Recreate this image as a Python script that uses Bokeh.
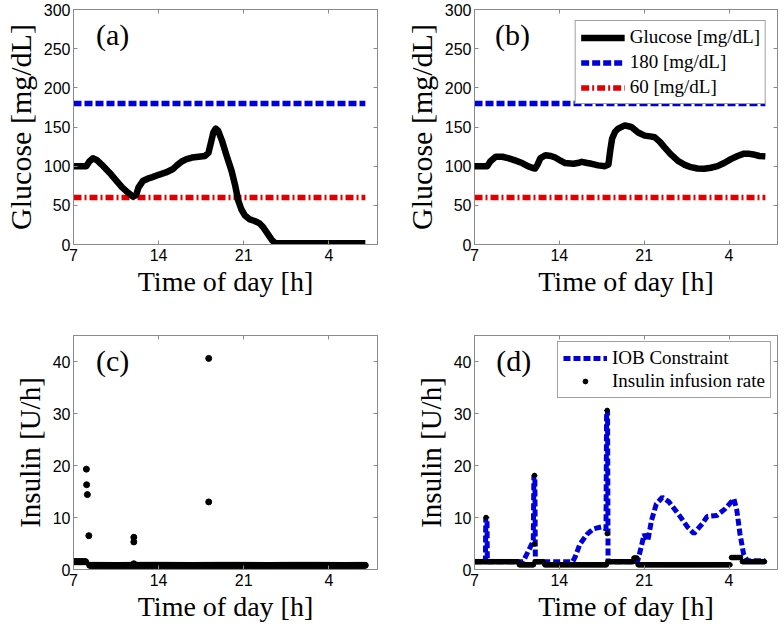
import numpy as np
from bokeh.plotting import figure
from bokeh.layouts import gridplot
from bokeh.models import (Range1d, LinearAxis, FixedTicker, CustomJSTickFormatter, Label)
from bokeh.embed import file_html
from bokeh.resources import INLINE

# ---------------- data ----------------
x_ticks = [7, 14, 21, 28]
x_tick_labels = {28: "4"}
glu_ticks = [0, 50, 100, 150, 200, 250, 300]
ins_ticks = [0, 10, 20, 30, 40]

upper_limit = 180
lower_limit = 60
limit_t = [7.0, 31.0]

# (a) glucose
ga_t = [7.0, 8.05, 8.3, 8.6, 8.9, 9.45, 10.0, 10.5, 11.0, 11.5, 11.9, 12.15, 12.35, 12.7,
        13.1, 13.5, 14.0, 14.6, 15.15, 15.5, 15.9, 16.3, 16.75, 17.3, 17.8, 18.1, 18.3,
        18.5, 18.7, 18.9, 19.2, 19.6, 20.0, 20.3, 20.55, 20.8, 21.1, 21.5, 21.9, 22.3,
        22.6, 23.0, 23.3, 23.6, 31.0]
ga_g = [100, 100, 106, 110, 108, 100, 91, 82, 73, 66, 61, 63, 73, 81,
        84, 86, 89, 92, 96, 101, 106, 109, 111, 112, 113, 117, 130,
        143, 148, 145, 133, 113, 94, 75, 56, 45, 37, 32, 30, 27,
        22, 13, 6, 1.5, 1.5]

# (b) glucose
gb_t = [7.0, 8.05, 8.3, 8.75, 9.3, 9.84, 10.4, 10.93, 11.4, 11.75, 12.0, 12.2, 12.43,
        12.85, 13.3, 13.66, 14.1, 14.48, 15.16, 15.5, 15.85, 16.3, 16.67, 17.2, 17.77,
        18.05, 18.2, 18.35, 18.6, 18.86, 19.4, 19.95, 20.5, 21.04, 21.5, 21.86, 22.3,
        22.68, 23.2, 23.77, 24.3, 24.86, 25.4, 25.96, 26.5, 27.05, 27.6, 28.15, 28.7,
        29.24, 29.6, 30.0, 30.5, 31.0]
gb_g = [100, 100, 106, 112, 112, 110, 107, 104, 100, 98, 97, 102, 110,
        114, 113, 111, 107, 104, 103, 104, 105.5, 104, 103, 101, 100,
        102, 120, 135, 144, 148, 152, 150, 143, 139, 138, 137, 131,
        124, 115, 107, 102, 98.7, 97, 96.7, 98, 100, 104, 109, 113,
        116, 116, 115, 113, 112.5]

# (c) insulin infusion: basal segments (start, end, rate) + bolus points
c_basal = [(7.0, 8.0, 1.5), (8.33, 31.0, 0.8)]
c_bolus_t = [8.06, 8.08, 8.14, 8.26, 11.96, 11.96, 11.96, 18.12, 18.12]
c_bolus_v = [19.3, 16.3, 14.4, 6.5, 6.2, 5.3, 1.1, 40.6, 13.0]

# (d) insulin infusion with IOB constraint
d_basal = [(7.0, 10.65, 1.5), (10.7, 11.9, 0.9), (12.0, 12.7, 1.5), (12.8, 17.9, 0.9),
           (18.0, 20.1, 1.5), (20.15, 20.45, 2.2), (20.5, 28.1, 0.9), (28.2, 29.0, 2.3),
           (29.1, 31.0, 1.5)]
d_bolus_t = [7.95, 11.95, 11.95, 17.95, 17.95]
d_bolus_v = [10.0, 18.1, 4.9, 30.6, 6.9]

iob_t = [7.0, 7.9, 7.93, 8.03, 8.06, 11.0, 11.2, 11.6, 11.85, 11.9, 11.98, 12.02, 15.1,
         15.3, 15.7, 16.3, 16.8, 17.5, 17.85, 17.9, 17.98, 18.02, 20.45, 20.75, 21.0,
         21.3, 21.6, 22.0, 22.5, 23.05, 23.9, 24.6, 25.1, 25.8, 26.2, 27.0, 27.7, 28.4,
         28.65, 28.9, 29.2, 29.5, 31.0]
iob_v = [1.5, 1.5, 10.0, 10.0, 1.5, 1.5, 2.4, 4.3, 5.5, 18.1, 18.1, 1.5, 1.5,
         2.4, 4.9, 6.8, 7.8, 8.2, 7.8, 30.6, 30.6, 1.5, 1.5, 4.3, 6.8,
         5.5, 9.4, 12.6, 13.9, 13.0, 10.4, 8.1, 6.9, 8.8, 10.2, 10.4, 11.7, 13.6,
         11.3, 6.9, 3.0, 1.7, 1.7]

STEP = 1.0 / 12.0  # 5-minute sampling of the pump


def expand(segments, bolus_t, bolus_v):
    ts, vs = [], []
    for a, b, r in segments:
        t = np.arange(a, b + 1e-9, STEP)
        ts.extend(t.tolist())
        vs.extend([r] * len(t))
    ts.extend(bolus_t)
    vs.extend(bolus_v)
    return ts, vs


AX_COL = "#8a8a8a"
SERIF = "Liberation Serif"
SANS = "Liberation Sans"


def make_fig(width, height, mbl, mbr, mbt, mbb, yr, yticks, ylabel, ylabel_size):
    p = figure(width=width, height=height, x_range=Range1d(7, 32), y_range=Range1d(*yr),
               output_backend="svg", toolbar_location=None,
               min_border_left=mbl, min_border_right=mbr,
               min_border_top=mbt, min_border_bottom=mbb)
    p.outline_line_color = AX_COL
    p.grid.visible = False
    p.background_fill_color = "white"
    p.border_fill_color = "white"
    p.xaxis.ticker = FixedTicker(ticks=x_ticks)
    p.xaxis.major_label_overrides = x_tick_labels
    p.yaxis.ticker = FixedTicker(ticks=yticks)
    p.xaxis.axis_label = "Time of day [h]"
    p.yaxis.axis_label = ylabel
    for ax in (p.xaxis[0], p.yaxis[0]):
        ax.axis_line_color = AX_COL
        ax.major_tick_line_color = AX_COL
        ax.major_tick_in = 4
        ax.major_tick_out = 0
        ax.minor_tick_line_color = None
        ax.major_label_text_font = SANS
        ax.major_label_text_font_size = "16px"
        ax.major_label_text_color = "black"
        ax.major_label_standoff = 4
        ax.axis_label_text_font = SERIF
        ax.axis_label_text_font_style = "normal"
        ax.axis_label_text_color = "black"
        ax.axis_label_standoff = 2
    p.yaxis[0].axis_label_standoff = 4
    p.yaxis[0].major_label_standoff = 3
    p.xaxis[0].axis_label_text_font_size = "28px"
    p.yaxis[0].axis_label_text_font_size = ylabel_size
    blank = "return ''"
    top = LinearAxis(ticker=FixedTicker(ticks=x_ticks),
                     formatter=CustomJSTickFormatter(code=blank))
    right = LinearAxis(ticker=FixedTicker(ticks=yticks),
                       formatter=CustomJSTickFormatter(code=blank))
    for ax in (top, right):
        ax.axis_line_color = AX_COL
        ax.major_tick_line_color = AX_COL
        ax.major_tick_in = 4
        ax.major_tick_out = 0
        ax.minor_tick_line_color = None
        ax.major_label_standoff = 0
        ax.axis_label_standoff = 0
        ax.major_label_text_font_size = "0px"
    p.add_layout(top, "above")
    p.add_layout(right, "right")
    return p


def panel_label(p, text, x, y):
    p.add_layout(Label(x=x, y=y, text=text, text_font=SERIF, text_font_size="30px",
                       text_baseline="top", text_align="left", text_color="black"))


def style_legend(p, margin):
    lg = p.legend[0]
    lg.location = "top_right"
    lg.margin = margin
    lg.label_text_font = SERIF
    lg.label_text_font_size = "19px"
    lg.label_text_color = "black"
    lg.border_line_color = "#444444"
    lg.border_line_width = 1
    lg.background_fill_alpha = 1.0
    lg.padding = 5
    lg.spacing = 3
    lg.label_standoff = 5
    lg.glyph_width = 44
    lg.label_height = 21
    lg.glyph_height = 21


# ---------------- (a) ----------------
pa = make_fig(392, 310, 70, 15, 9, 66, (0, 300), glu_ticks, "Glucose [mg/dL]", "30px")
pa.line(limit_t, [upper_limit] * 2, line_color="#0000dd", line_width=5.5, line_dash="8 3")
pa.line(limit_t, [lower_limit] * 2, line_color="#e00000", line_width=5.5, line_dash="8 3 2 3")
pa.line(ga_t, ga_g, line_color="black", line_width=6.5, line_join="round")
panel_label(pa, "(a)", 8.85, 289)

# ---------------- (b) ----------------
pb = make_fig(392, 310, 82, 7, 9, 66, (0, 300), glu_ticks, "Glucose [mg/dL]", "30px")
rb1 = pb.line(gb_t, gb_g, line_color="black", line_width=6.5, line_join="round",
              legend_label="Glucose [mg/dL]")
rb2 = pb.line(limit_t, [upper_limit] * 2, line_color="#0000dd", line_width=5.5,
              line_dash="8 3", legend_label="180 [mg/dL]")
rb3 = pb.line(limit_t, [lower_limit] * 2, line_color="#e00000", line_width=5.5,
              line_dash="8 3 2 3", legend_label="60 [mg/dL]")
rb1.level = "overlay"
panel_label(pb, "(b)", 8.7, 289)
style_legend(pb, 11)

# ---------------- (c) ----------------
pc = make_fig(392, 319, 70, 15, 25, 60, (0, 45), ins_ticks, "Insulin [U/h]", "29px")
ct, cv = expand(c_basal, c_bolus_t, c_bolus_v)
pc.scatter(ct, cv, size=6, color="black")
panel_label(pc, "(c)", 8.85, 43.4)

# ---------------- (d) ----------------
pd_ = make_fig(392, 319, 82, 7, 25, 60, (0, 45), ins_ticks, "Insulin [U/h]", "29px")
pd_.line(iob_t, iob_v, line_color="#0000dd", line_width=5, line_dash="7 3",
         legend_label="IOB Constraint")
dt, dv = expand(d_basal, d_bolus_t, d_bolus_v)
pd_.scatter(dt, dv, size=4.5, color="black", legend_label="Insulin infusion rate")
panel_label(pd_, "(d)", 8.8, 43.4)
style_legend(pd_, 6)
pd_.legend[0].spacing = 1
pd_.legend[0].glyph_height = 12

grid = gridplot([[pa, pb], [pc, pd_]], toolbar_location=None)

open("out.html", "w").write(file_html(grid, INLINE))
